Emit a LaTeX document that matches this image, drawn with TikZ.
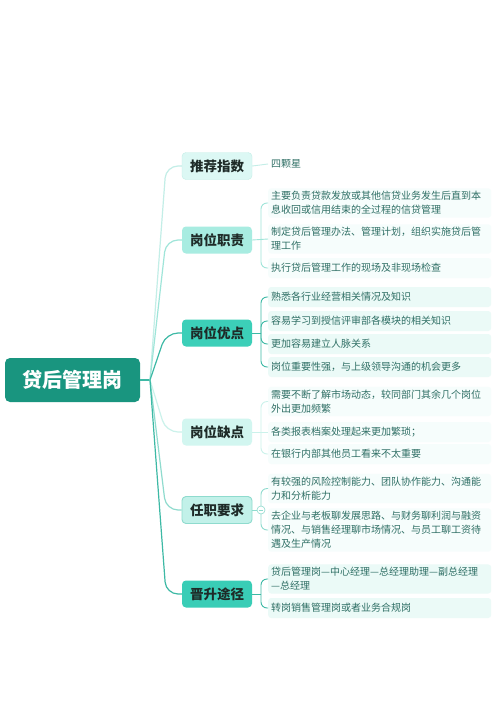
\documentclass[tikz,border=0pt]{standalone}
\usepackage{fontspec}
\setmainfont{Noto Sans CJK SC}
\usetikzlibrary{positioning}

\definecolor{rootfill}{HTML}{19957F}
\definecolor{branchtext}{HTML}{1E2B28}
\definecolor{leaftext}{HTML}{2F6F65}
\definecolor{paleA}{HTML}{DCF8F4}
\definecolor{paleB}{HTML}{A8ECE1}
\definecolor{strongC}{HTML}{3CCFB8}
\definecolor{paleD}{HTML}{D2F6F0}
\definecolor{paleE}{HTML}{C2F1E9}
\definecolor{strongF}{HTML}{39CDB6}
\definecolor{lineA}{HTML}{C3EEE7}
\definecolor{lineB}{HTML}{9FE5D9}
\definecolor{lineC}{HTML}{3DB9A5}
\definecolor{lineD}{HTML}{CBF2EB}
\definecolor{lineE}{HTML}{8FDBCE}
\definecolor{leafpale}{HTML}{F6FDFC}
\definecolor{leafsoft}{HTML}{EBFAF7}

\begin{document}
\begin{tikzpicture}[
    x=1pt, y=-1pt,
    root/.style={
        rectangle,
        rounded corners=5pt,
        fill=rootfill,
        text=white,
        minimum width=135pt,
        minimum height=44pt,
        font=\fontsize{20}{24}\selectfont\bfseries
    },
    branch/.style={
        rectangle,
        rounded corners=4pt,
        minimum width=70pt,
        minimum height=27pt,
        inner sep=2pt,
        text=branchtext,
        font=\fontsize{13.5}{16}\selectfont\bfseries
    },
    leaf/.style={
        rectangle,
        rounded corners=3pt,
        anchor=west,
        fill=leafpale,
        text=leaftext,
        text width=217pt,
        align=left,
        inner sep=3pt,
        minimum height=20pt,
        font=\fontsize{10}{14}\selectfont
    },
    link/.style={line width=1.2pt, rounded corners=12pt},
    twig/.style={line width=0.9pt, rounded corners=6pt}
]

\useasboundingbox (0,0) rectangle (500,724);
\fill[white] (0,0) rectangle (500,724);

% --- Nodo raíz ---
\node[root] (root) at (72.5,380) {贷后管理岗};
\coordinate (hub) at (150,380);

% --- Ramas ---
\node[branch, fill=paleA, draw=lineA] (rec)  at (217,166) {推荐指数};
\node[branch, fill=paleB]             (duty) at (217,240) {岗位职责};
\node[branch, fill=strongC]           (pro)  at (217,333) {岗位优点};
\node[branch, fill=paleD]             (con)  at (217,432) {岗位缺点};
\node[branch, fill=paleE, draw=lineE, line width=0.9pt] (req) at (217,510) {任职要求};
\node[branch, fill=strongF]           (path) at (217,594) {晋升途径};

% --- Hojas ---
\node[leaf, text width=30pt, fill=white] (r1) at (268,164) {四颗星};

\node[leaf] (d1) at (268,203) {主要负责贷款发放或其他信贷业务发生后直到本\\息收回或信用结束的全过程的信贷管理};
\node[leaf] (d2) at (268,239) {制定贷后管理办法、管理计划，组织实施贷后管\\理工作};
\node[leaf] (d3) at (268,268) {执行贷后管理工作的现场及非现场检查};

\node[leaf, fill=leafsoft] (p1) at (268,297) {熟悉各行业经营相关情况及知识};
\node[leaf, fill=leafsoft] (p2) at (268,321) {容易学习到授信评审部各模块的相关知识};
\node[leaf, fill=leafsoft] (p3) at (268,344) {更加容易建立人脉关系};
\node[leaf, fill=leafsoft] (p4) at (268,367) {岗位重要性强，与上级领导沟通的机会更多};

\node[leaf] (c1) at (268,401.5) {需要不断了解市场动态，较同部门其余几个岗位\\外出更加频繁};
\node[leaf] (c2) at (268,432) {各类报表档案处理起来更加繁琐；};
\node[leaf] (c3) at (268,454) {在银行内部其他员工看来不太重要};

\node[leaf] (q1) at (268,488.5) {有较强的风险控制能力、团队协作能力、沟通能\\力和分析能力};
\node[leaf] (q2) at (268,530) {去企业与老板聊发展思路、与财务聊利润与融资\\情况、与销售经理聊市场情况、与员工聊工资待\\遇及生产情况};

\node[leaf, fill=leafsoft] (g1) at (268,579) {贷后管理岗—中心经理—总经理助理—副总经理\\—总经理};
\node[leaf, fill=leafsoft] (g2) at (268,608) {转岗销售管理岗或者业务合规岗};

% --- Conectores raíz → ramas ---
\draw[link, lineC] (root.east) -- (hub);
\draw[link, lineA] (hub) -- (166,166) -- (rec.west);
\draw[link, lineB] (hub) -- (166,240) -- (duty.west);
\draw[link, lineC] (hub) -- (166,333) -- (pro.west);
\draw[link, lineD] (hub) -- (166,432) -- (con.west);
\draw[link, lineE] (hub) -- (166,510) -- (req.west);
\draw[link, lineC] (hub) -- (166,594) -- (path.west);

% --- Conectores ramas → hojas ---
\draw[twig, lineA] (rec.east) -- (r1.west);

\draw[twig, lineB] (duty.east) -- (d2.west);
\draw[twig, lineB] (261,240) |- (d1.west);
\draw[twig, lineB] (261,240) |- (d3.west);

\draw[twig, lineC] (pro.east) -- (261,333);
\draw[twig, lineC] (261,333) |- (p1.west);
\draw[twig, lineC] (261,333) |- (p2.west);
\draw[twig, lineC] (261,333) |- (p3.west);
\draw[twig, lineC] (261,333) |- (p4.west);

\draw[twig, lineD] (con.east) -- (c2.west);
\draw[twig, lineD] (261,432) |- (c1.west);
\draw[twig, lineD] (261,432) |- (c3.west);

\draw[twig, lineE] (req.east) -- (261,510);
\draw[twig, lineE] (261,510) |- (q1.west);
\draw[twig, lineE] (261,510) |- (q2.west);
\node[circle, draw=lineE, fill=white, line width=0.6pt, minimum size=8pt, inner sep=0pt] (fold) at (261,510) {};
\draw[lineE, line width=0.6pt] (fold.west) ++(2pt,0) -- ++(4pt,0);

\draw[twig, lineC] (path.east) -- (261,594);
\draw[twig, lineC] (261,594) |- (g1.west);
\draw[twig, lineC] (261,594) |- (g2.west);

\end{tikzpicture}
\end{document}
